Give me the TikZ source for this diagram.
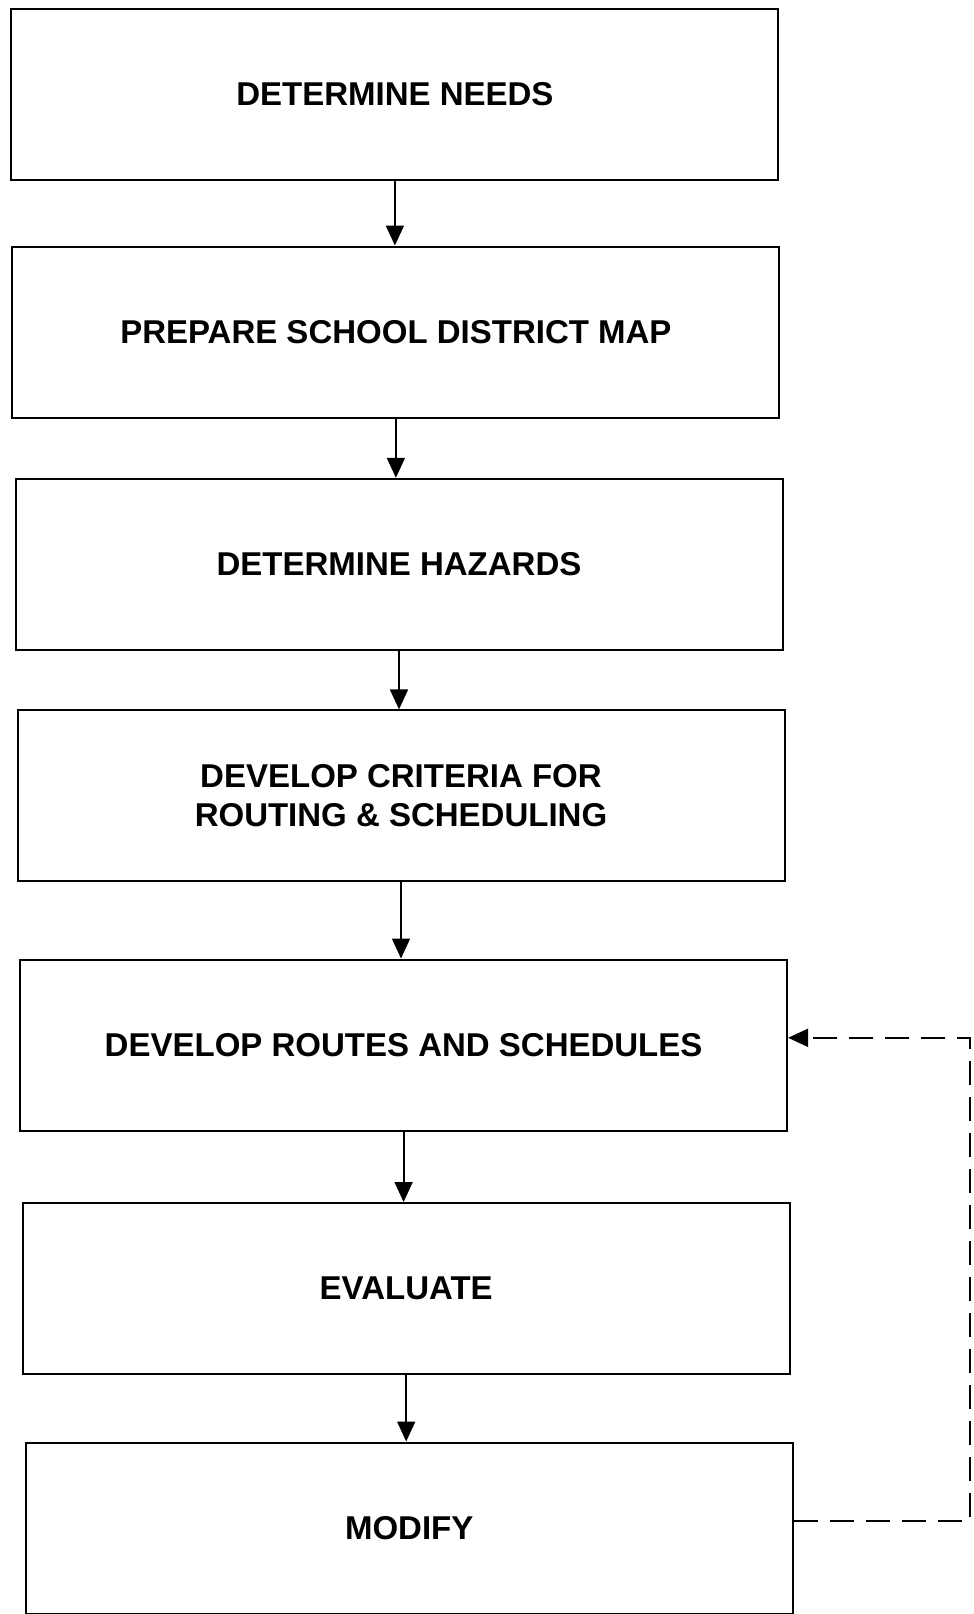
\documentclass[tikz,border=0pt]{standalone}
\usepackage{fontspec}
\setmainfont{Liberation Sans}
\usetikzlibrary{arrows.meta}
\begin{document}
\begin{tikzpicture}[x=0.5pt,y=-0.5pt,
  box/.style={draw,line width=1pt,minimum width=383.5pt,minimum height=85.5pt,inner sep=0pt,align=center,font=\fontsize{16.5}{19.5}\selectfont\bfseries},
  flow/.style={line width=0.9pt,-{Triangle[length=10pt,width=9pt]}},
  back/.style={line width=1pt,dash pattern=on 12pt off 6pt,-{Triangle[length=10pt,width=9pt]}}]
\useasboundingbox (0,0) rectangle (974,1614);
\node[box] (a) at (394.9,94.2) {DETERMINE NEEDS};
\node[box] (b) at (395.9,332) {PREPARE SCHOOL DISTRICT MAP};
\node[box] (c) at (399,564.3) {DETERMINE HAZARDS};
\node[box] (d) at (401,795.9) {DEVELOP CRITERIA FOR\\ROUTING \& SCHEDULING};
\node[box] (e) at (403.6,1045) {DEVELOP ROUTES AND SCHEDULES};
\node[box] (f) at (406.2,1288.5) {EVALUATE};
\node[box] (g) at (409.2,1528) {MODIFY};
\coordinate (r) at (970,1280);
\foreach \u/\v in {a/b,b/c,c/d,d/e,e/f,f/g}
  \draw[flow] (\u.south) -- (\u.south |- \v.north);
\draw[back] ([yshift=3.6pt]g.east) -- ([yshift=3.6pt]g.east -| r) -- ([yshift=3.6pt]e.east -| r) -- ([yshift=3.6pt]e.east);
\end{tikzpicture}
\end{document}
